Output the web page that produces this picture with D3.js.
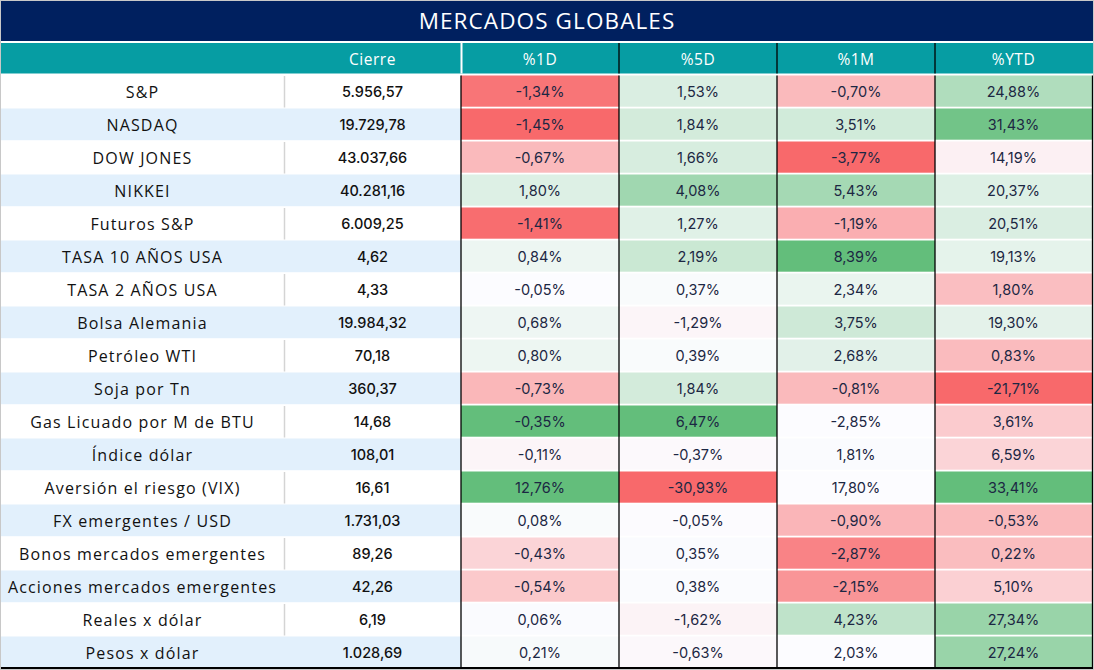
<!DOCTYPE html>
<html><head><meta charset="utf-8">
<script src="https://cdn.jsdelivr.net/npm/d3@7"></script>
<style>
html,body{margin:0;padding:0;background:#fff;}
svg{display:block;}
</style></head>
<body>
<svg id="chart" width="1094" height="670"></svg>
<script>
const title = "MERCADOS GLOBALES";
const headers = ["", "Cierre", "%1D", "%5D", "%1M", "%YTD"];
const names = ["S&P","NASDAQ","DOW JONES","NIKKEI","Futuros S&P","TASA 10 AÑOS USA","TASA 2 AÑOS USA","Bolsa Alemania","Petróleo WTI","Soja por Tn","Gas Licuado por M de BTU","Índice dólar","Aversión el riesgo (VIX)","FX emergentes / USD","Bonos mercados emergentes","Acciones mercados emergentes","Reales x dólar","Pesos x dólar"];
const cierre = [5956.57,19729.78,43037.66,40281.16,6009.25,4.62,4.33,19984.32,70.18,360.37,14.68,108.01,16.61,1731.03,89.26,42.26,6.19,1028.69];
const pct1D = [-1.34,-1.45,-0.67,1.80,-1.41,0.84,-0.05,0.68,0.80,-0.73,-0.35,-0.11,12.76,0.08,-0.43,-0.54,0.06,0.21];
const pct5D = [1.53,1.84,1.66,4.08,1.27,2.19,0.37,-1.29,0.39,1.84,6.47,-0.37,-30.93,-0.05,0.35,0.38,-1.62,-0.63];
const pct1M = [-0.70,3.51,-3.77,5.43,-1.19,8.39,2.34,3.75,2.68,-0.81,-2.85,1.81,17.80,-0.90,-2.87,-2.15,4.23,2.03];
const pctYTD = [24.88,31.43,14.19,20.37,20.51,19.13,1.80,19.30,0.83,-21.71,3.61,6.59,33.41,-0.53,0.22,5.10,27.34,27.24];
// conditional-format intensity (-1 red … 0 white … +1 green)
const heat1D = [-0.92,-1,-0.45,0.2,-0.97,0.1,0.0,0.09,0.1,-0.47,1,-0.05,1,0.02,-0.27,-0.35,0.01,0.03];
const heat5D = [0.22,0.27,0.24,0.6,0.18,0.33,0.02,-0.05,0.02,0.27,1,-0.02,-1,-0.01,0.01,0.01,-0.06,-0.03];
const heat1M = [-0.45,0.28,-1,0.57,-0.53,1,0.12,0.3,0.17,-0.45,0,0.01,0,-0.48,-0.82,-0.7,0.4,0];
const heatYTD = [0.5,0.9,-0.08,0.2,0.22,0.15,-0.42,0.16,-0.44,-1,-0.33,-0.27,1,-0.45,-0.43,-0.3,0.65,0.65];

const pctCols = [
  {vals:pct1D, heat:heat1D},
  {vals:pct5D, heat:heat5D},
  {vals:pct1M, heat:heat1M},
  {vals:pctYTD, heat:heatYTD}
];

const W = 1094, H = 670;
const svg = d3.select("#chart");
const loc = d3.formatLocale({decimal:",", thousands:".", grouping:[3], currency:["$",""], minus:"-"});
const fmtNum = loc.format(",.2f");
const fmtPct = v => loc.format(".2f")(v) + "%";

const colEdges = [0, 284, 461, 619, 777, 935, 1092];
const x = d3.scaleOrdinal().domain(d3.range(6)).range(colEdges.slice(0,6));
const colW = i => colEdges[i+1] - colEdges[i];

const rowTop = 75, rowH = 33;
const y = d3.scaleBand().domain(d3.range(names.length)).range([rowTop, rowTop + rowH*names.length]).padding(0);

const color = d3.scaleLinear().domain([-1,0,1]).range(["#F8696B","#FCFCFF","#63BE7B"]).interpolate(d3.interpolateRgb);

const nameFont = "'Open Sans', sans-serif";
const numFont = "Inter, 'Open Sans', sans-serif";

// title bar
svg.append("rect").attr("x",0).attr("y",0).attr("width",W).attr("height",41).attr("fill","#00205F");
svg.append("text").attr("x",W/2).attr("y",20.5).attr("text-anchor","middle").attr("dominant-baseline","central")
  .attr("fill","#fff").style("font-family",nameFont).style("font-size","22.5px").style("letter-spacing","1.1px").text(title);

// header row
svg.append("rect").attr("x",0).attr("y",43).attr("width",W).attr("height",30.5).attr("fill","#069DA3");
headers.forEach((h,i)=>{
  if(!h) return;
  svg.append("text").attr("x",x(i)+colW(i)/2).attr("y",58.5).attr("text-anchor","middle").attr("dominant-baseline","central")
    .attr("fill","#fff").style("font-family",nameFont).style("font-size","15.5px").style("letter-spacing","0.5px").text(h);
});
// header separators
svg.append("rect").attr("x",460.5).attr("y",43).attr("width",2).attr("height",30.5).attr("fill","#fff");
[619,777,935].forEach(px=>{
  svg.append("line").attr("x1",px).attr("x2",px).attr("y1",43).attr("y2",73.5).attr("stroke","#000").attr("stroke-width",1.3);
});

// rows
const rows = svg.append("g").selectAll("g").data(names).join("g").attr("transform",(d,i)=>`translate(0,${y(i)})`);
rows.each(function(d,i){
  const g = d3.select(this);
  if(i%2===1){
    g.append("rect").attr("x",0).attr("y",0.5).attr("width",461).attr("height",rowH-1.3).attr("fill","#E2F0FC");
  } else {
    g.append("line").attr("x1",284.5).attr("x2",284.5).attr("y1",1).attr("y2",rowH-0.5).attr("stroke","#D4D4D4").attr("stroke-width",1.5);
  }
  g.append("text").attr("x",colW(0)/2+0.5).attr("y",rowH/2).attr("text-anchor","middle").attr("dominant-baseline","central")
    .attr("fill","#111").style("font-family",nameFont).style("font-size","16px").style("letter-spacing","1.15px").text(d);
  g.append("text").attr("x",x(1)+colW(1)/2).attr("y",rowH/2).attr("text-anchor","middle").attr("dominant-baseline","central")
    .attr("fill","#111").style("font-family",numFont).style("font-size","14.5px").style("font-weight","500").text(fmtNum(cierre[i]));
  pctCols.forEach((c,j)=>{
    const ci = j+2;
    g.append("rect").attr("x",x(ci)).attr("y",0.5).attr("width",colW(ci)).attr("height",rowH-1.8).attr("fill",color(c.heat[i]));
    g.append("text").attr("x",x(ci)+colW(ci)/2).attr("y",rowH/2).attr("text-anchor","middle").attr("dominant-baseline","central")
      .attr("fill","#1C2743").style("font-family",numFont).style("font-size","14.5px").text(fmtPct(c.vals[i]));
  });
});

// vertical black column rules in body
[461,619,777,935,1092.5].forEach(px=>{
  svg.append("line").attr("x1",px).attr("x2",px).attr("y1",75.5).attr("y2",668).attr("stroke","#000").attr("stroke-width",1.3);
});
// bottom border
svg.append("rect").attr("x",0).attr("y",667).attr("width",W).attr("height",3).attr("fill","#000");
// outer light border
svg.append("rect").attr("x",0.5).attr("y",0.5).attr("width",W-1).attr("height",H-1).attr("fill","none").attr("stroke","#C8C8C8").attr("stroke-width",1);
</script>
</body></html>
